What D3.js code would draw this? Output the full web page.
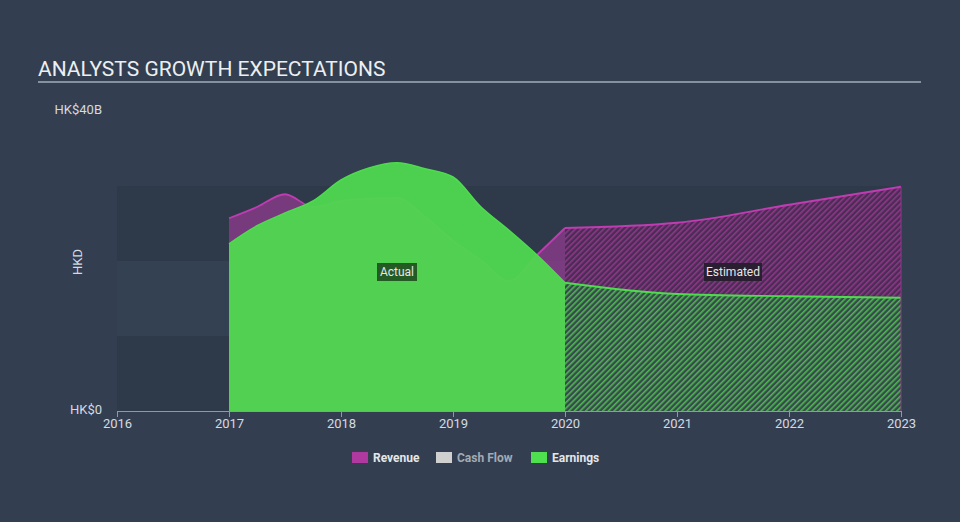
<!DOCTYPE html>
<html>
<head>
<meta charset="utf-8">
<script src="https://cdn.jsdelivr.net/npm/d3@7/dist/d3.min.js"></script>
<style>
  html, body { margin: 0; padding: 0; background: #333f50; }
  svg { display: block; font-family: Roboto, "Open Sans", sans-serif; }
</style>
</head>
<body>
<svg id="chart" width="960" height="522"></svg>
<script>
// ---- data ----
const xTicks = [2016, 2017, 2018, 2019, 2020, 2021, 2022, 2023];
const yTickValues = [0, 40];
const yTickLabels = ["HK$0", "HK$40B"];
const actualYears = [2017, 2017.25, 2017.5, 2017.75, 2018, 2018.25, 2018.5, 2018.75, 2019, 2019.25, 2019.5, 2019.75, 2020];
const revenueActual = [25.7, 27.2, 28.9, 27.2, 28.0, 28.3, 28.4, 25.9, 22.7, 20.1, 17.3, 20.8, 24.4];
const earningsActual = [22.3, 24.7, 26.4, 28.0, 30.8, 32.4, 33.1, 32.3, 31.2, 27.2, 24.1, 20.8, 17.1];
const estYears = [2020, 2021, 2022, 2023];
const revenueEst = [24.4, 25.1, 27.5, 29.9];
const earningsEst = [17.1, 15.6, 15.3, 15.1];
const legendNames = ["Revenue", "Cash Flow", "Earnings"];
const legendColors = ["#b0399f", "#d0d0d0", "#4fe04f"];

// ---- layout ----
const svg = d3.select("#chart");
const W = 960, H = 522;
const x = d3.scaleLinear().domain([2016, 2023]).range([117, 901]);
const y = d3.scaleLinear().domain([0, 40]).range([411, 111]);

svg.append("rect").attr("width", W).attr("height", H).attr("fill", "#333f50");

// patterns
const defs = svg.append("defs");
function hatch(id, bg, fg) {
  const p = defs.append("pattern").attr("id", id)
    .attr("patternUnits", "userSpaceOnUse").attr("width", 4).attr("height", 4)
    .attr("patternTransform", "rotate(45)");
  p.append("rect").attr("width", 4).attr("height", 4).attr("fill", bg);
  p.append("rect").attr("width", 1.6).attr("height", 4).attr("fill", fg);
}
hatch("hRev", "#4a2c55", "#8e3888");
hatch("hEarn", "#36494c", "#50b852");

// title
svg.append("text").attr("x", 38).attr("y", 76).attr("fill", "#eceff2")
  .attr("font-size", 21).text("ANALYSTS GROWTH EXPECTATIONS");
svg.append("line").attr("x1", 38).attr("x2", 921).attr("y1", 82).attr("y2", 82)
  .attr("stroke", "#a4adb7").attr("stroke-width", 1.5);

// bands
const bands = [[0, 10, "#2e3a4a"], [10, 20, "#344152"], [20, 30, "#2e3a4a"]];
svg.selectAll("rect.band").data(bands).enter().append("rect").attr("class", "band")
  .attr("x", x(2016)).attr("width", x(2023) - x(2016))
  .attr("y", d => y(d[1])).attr("height", d => y(d[0]) - y(d[1]))
  .attr("fill", d => d[2]);

// y labels
svg.selectAll("text.ylab").data(yTickValues).enter().append("text").attr("class", "ylab")
  .attr("x", 102).attr("y", d => y(d) - 2).attr("dy", "0.35em")
  .attr("text-anchor", "end").attr("fill", "#d5dae0").attr("font-size", 13)
  .text((d, i) => yTickLabels[i]);
svg.append("text").attr("transform", `translate(82,262) rotate(-90)`)
  .attr("text-anchor", "middle").attr("fill", "#d5dae0").attr("font-size", 13).text("HKD");

const curve = d3.curveMonotoneX;
const act = actualYears.map((t, i) => ({t, r: revenueActual[i], e: earningsActual[i]}));
const est = estYears.map((t, i) => ({t, r: revenueEst[i], e: earningsEst[i]}));

const areaR = d3.area().curve(curve).x(d => x(d.t)).y0(y(0)).y1(d => y(d.r));
const areaE = d3.area().curve(curve).x(d => x(d.t)).y0(y(0)).y1(d => y(d.e));
const lineR = d3.line().curve(curve).x(d => x(d.t)).y(d => y(d.r));
const lineE = d3.line().curve(curve).x(d => x(d.t)).y(d => y(d.e));

// actual
svg.append("path").datum(act).attr("d", areaR).attr("fill", "#a93a9f").attr("fill-opacity", 0.6);
svg.append("path").datum(act).attr("d", lineR).attr("fill", "none").attr("stroke", "#c03cb2").attr("stroke-width", 1.8);
svg.append("path").datum(act).attr("d", areaE).attr("fill", "#4fd84f").attr("fill-opacity", 0.95);
svg.append("path").datum(act).attr("d", lineE).attr("fill", "none").attr("stroke", "#4ddc4d").attr("stroke-width", 1.5);

// estimated
svg.append("path").datum(est).attr("d", areaR).attr("fill", "url(#hRev)");
svg.append("path").datum(est).attr("d", areaE).attr("fill", "url(#hEarn)");
svg.append("path").datum(est).attr("d", lineR).attr("fill", "none").attr("stroke", "#c03cb2").attr("stroke-width", 1.8);
svg.append("path").datum(est).attr("d", lineE).attr("fill", "none").attr("stroke", "#4ddc4d").attr("stroke-width", 1.8);
svg.append("line").attr("x1", x(2023)).attr("x2", x(2023)).attr("y1", y(revenueEst[3])).attr("y2", y(0))
  .attr("stroke", "#8e3888").attr("stroke-width", 1);

// axis
const axis = d3.axisBottom(x).tickValues(xTicks).tickFormat(d3.format("d")).tickSize(6).tickSizeOuter(0);
const gx = svg.append("g").attr("transform", `translate(0,${y(0)})`).call(axis);
gx.select(".domain").attr("stroke", "#8e99a6");
gx.selectAll(".tick line").attr("stroke", "#8e99a6");
gx.selectAll(".tick text").attr("fill", "#d5dae0").attr("font-size", 13).attr("y", 8)
  .attr("font-family", "Roboto, sans-serif");

// labels
function tag(text, cx, cy, bg, w) {
  svg.append("rect").attr("x", cx - w / 2).attr("y", cy - 9).attr("width", w).attr("height", 18).attr("fill", bg);
  svg.append("text").attr("x", cx).attr("y", cy).attr("dy", "0.35em").attr("text-anchor", "middle")
    .attr("fill", "#e6e6e6").attr("font-size", 12).text(text);
}
tag("Actual", x(2018.5), 272, "#245a24", 40);
tag("Estimated", (x(2020) + x(2023)) / 2, 272, "#2a1f30", 58);

// legend
const lx = [352, 436, 531];
const lg = svg.selectAll("g.leg").data(legendNames).enter().append("g").attr("class", "leg")
  .attr("transform", (d, i) => `translate(${lx[i]},452)`);
lg.append("rect").attr("width", 16).attr("height", 11).attr("fill", (d, i) => legendColors[i]);
lg.append("text").attr("x", 21).attr("y", 6).attr("dy", "0.35em").attr("font-size", 12)
  .attr("font-weight", "bold").attr("fill", (d, i) => i === 1 ? "#a3abb5" : "#e4e7ea").text(d => d);
</script>
</body>
</html>
